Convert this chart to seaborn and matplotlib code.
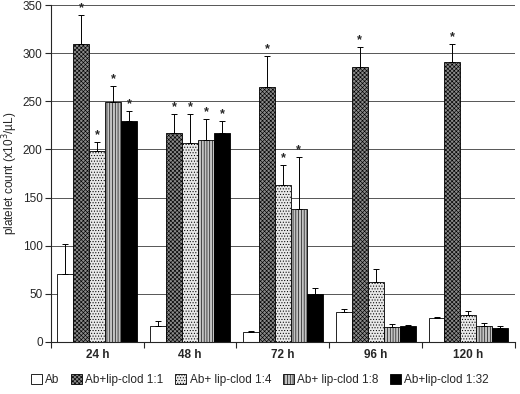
import numpy as np
import pandas as pd
import seaborn as sns
import matplotlib.pyplot as plt
from matplotlib.patches import Patch

times = ['24 h', '48 h', '72 h', '96 h', '120 h']
groups = ['Ab', 'Ab+lip-clod 1:1', 'Ab+ lip-clod 1:4', 'Ab+ lip-clod 1:8', 'Ab+lip-clod 1:32']

# mean platelet count per group, one list per time point order
ab = [71, 17, 10, 31, 25]
clod_1 = [310, 217, 265, 286, 291]
clod_4 = [198, 207, 163, 62, 28]
clod_8 = [249, 210, 138, 16, 17]
clod_32 = [230, 217, 50, 17, 15]

# upper end of the error bar
ab_err = [102, 22, 11, 34, 26]
clod_1_err = [340, 237, 297, 307, 310]
clod_4_err = [208, 237, 184, 76, 32]
clod_8_err = [266, 232, 192, 19, 20]
clod_32_err = [240, 230, 56, 18, 17]

# significance stars
ab_star = [0, 0, 0, 0, 0]
clod_1_star = [1, 1, 1, 1, 1]
clod_4_star = [1, 1, 1, 0, 0]
clod_8_star = [1, 1, 1, 0, 0]
clod_32_star = [1, 1, 0, 0, 0]

means = [ab, clod_1, clod_4, clod_8, clod_32]
errs = [ab_err, clod_1_err, clod_4_err, clod_8_err, clod_32_err]
stars = [ab_star, clod_1_star, clod_4_star, clod_8_star, clod_32_star]

rows = []
for g, vals in zip(groups, means):
    for t, v in zip(times, vals):
        rows.append({'time': t, 'group': g, 'count': v})
df = pd.DataFrame(rows)

sns.set_style('white')
plt.rcParams['font.family'] = ['Liberation Sans', 'DejaVu Sans']
plt.rcParams['hatch.linewidth'] = 0.45

faces = ['white', '#8a8a8a', '#e8e8e8', '#c4c4c4', 'black']
hatches = [None, 'xxxxxxxx', '......', '||||||', None]

fig = plt.figure(figsize=(5.2, 3.94), dpi=100)
ax = fig.add_axes([0.098, 0.132, 0.892, 0.855])

sns.barplot(data=df, x='time', y='count', hue='group', order=times,
            hue_order=groups, width=0.86, ax=ax, legend=False,
            palette=faces, edgecolor='black', linewidth=0.6)

bar_sets = list(ax.containers)
for i, cont in enumerate(bar_sets):
    for j, bar in enumerate(cont):
        bar.set_facecolor(faces[i])
        bar.set_edgecolor('black')
        if hatches[i]:
            bar.set_hatch(hatches[i])
        x = bar.get_x() + bar.get_width() / 2
        v = means[i][j]
        ax.errorbar(x, v, yerr=[[0], [errs[i][j] - v]], fmt='none',
                    ecolor='black', elinewidth=0.7, capsize=2, capthick=0.7)
        if stars[i][j]:
            ax.text(x, errs[i][j] + 7, '*', ha='center', va='center',
                    fontsize=9, fontweight='bold')

ax.set_ylim(0, 350)
ax.set_xlim(-0.5, 4.5)
ax.set_yticks(range(0, 351, 50))
ax.yaxis.grid(True, color='#555555', linewidth=0.7)
ax.set_axisbelow(True)
for s in ['top', 'right']:
    ax.spines[s].set_visible(False)
ax.spines['left'].set_linewidth(0.8)
ax.spines['bottom'].set_linewidth(0.8)
ax.tick_params(axis='y', length=4, width=0.8, labelsize=8.5, pad=2, direction='out', left=True)
ax.tick_params(axis='x', which='major', length=0, labelsize=8.5, pad=5)
ax.set_xticks(np.arange(-0.5, 5, 1), minor=True)
ax.tick_params(axis='x', which='minor', length=4, width=0.8, bottom=True)
for lab in ax.get_xticklabels():
    lab.set_fontweight('bold')
ax.set_xlabel('')
ax.set_ylabel('platelet count (x10$^3$/µL)', fontsize=8.5, labelpad=2)

handles = [Patch(facecolor=faces[i], edgecolor='black', hatch=hatches[i], linewidth=0.6,
                 label=groups[i]) for i in range(5)]
fig.legend(handles=handles, loc='center', bbox_to_anchor=(0.5, 0.035), ncol=5,
           frameon=False, fontsize=8.5, handlelength=0.9, handleheight=0.9,
           handletextpad=0.3, columnspacing=1.0)

fig.savefig('out.png', dpi=100)
